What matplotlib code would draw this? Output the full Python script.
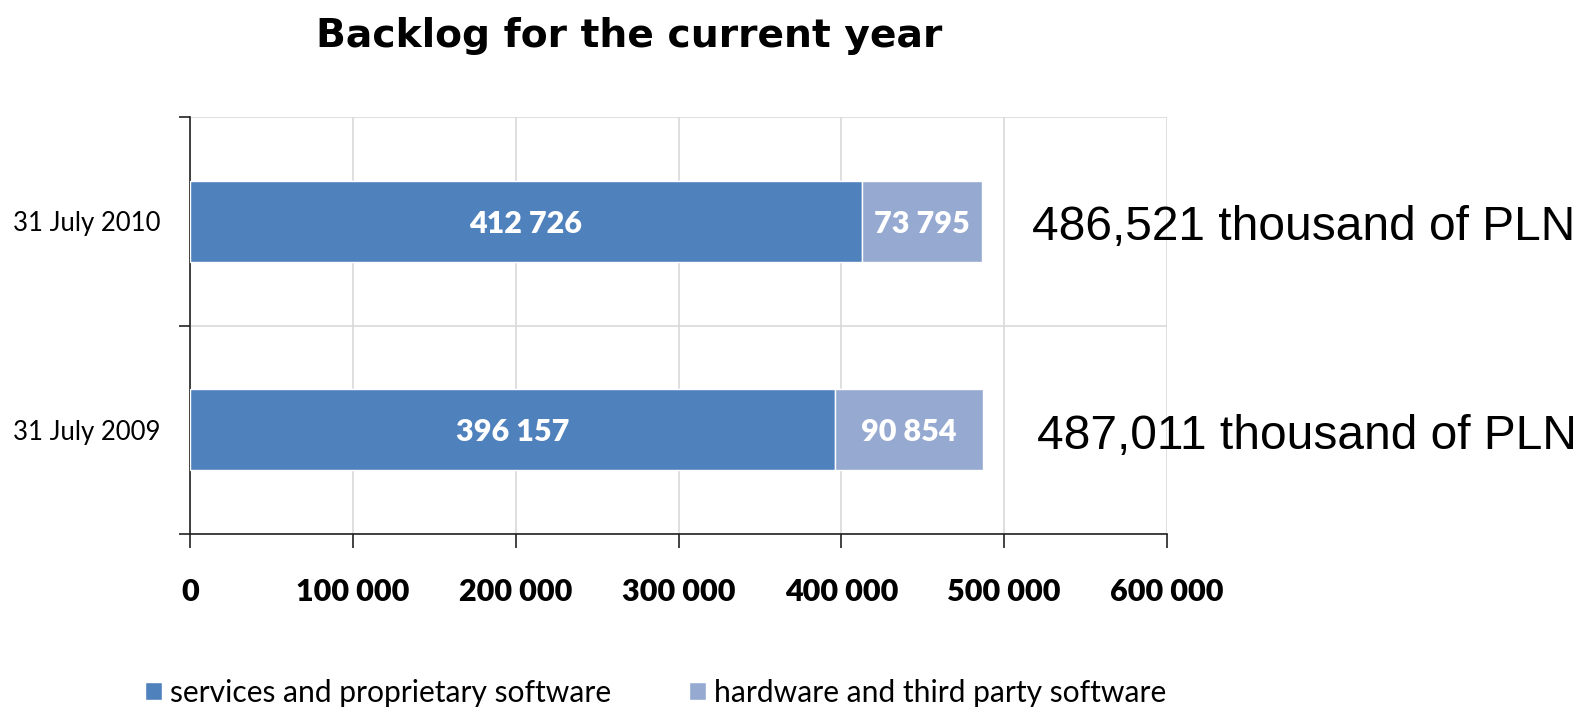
import matplotlib.pyplot as plt
import numpy as np

# data
categories = ["31 July 2009", "31 July 2010"]
services = [396157, 412726]
hardware = [90854, 73795]
series_names = ["services and proprietary software", "hardware and third party software"]
xticks = [0, 100000, 200000, 300000, 400000, 500000, 600000]

dark = "#4F81BD"
light = "#95A9D1"


def spaced(v):
    return f"{v:,}".replace(",", " ")


fig = plt.figure(figsize=(15.8, 7.07), dpi=100)
ax = fig.add_axes([190 / 1580, 173 / 707, 977 / 1580, 417 / 707])

y = np.arange(len(categories))
b1 = ax.barh(y, services, height=0.39, color=dark, edgecolor="white", linewidth=1, label=series_names[0], zorder=3)
b2 = ax.barh(y, hardware, left=services, height=0.39, color=light, edgecolor="white", linewidth=1,
             label=series_names[1], zorder=3)

# values inside the segments
for i in range(len(categories)):
    ax.text(services[i] / 2, y[i], spaced(services[i]), color="white", ha="center", va="center_baseline",
            fontsize=22, fontweight="heavy", family="Lato", zorder=4)
    ax.text(services[i] + hardware[i] / 2, y[i], spaced(hardware[i]), color="white", ha="center",
            va="center_baseline", fontsize=22, fontweight="heavy", family="Lato", zorder=4)

# totals on the right
totals = [s + h for s, h in zip(services, hardware)]
xpos = [0.867, 0.862]
for i, t in enumerate(totals):
    ax.text(xpos[i], y[i] - 0.03, f"{t:,} thousand of PLN", transform=ax.get_yaxis_transform(),
            ha="left", va="center", fontsize=34.5, family="Liberation Sans", clip_on=False, zorder=5)

ax.set_xlim(0, 600000)
ax.set_ylim(-0.5, 1.5)
ax.set_xticks(xticks)
ax.set_xticklabels([spaced(v) for v in xticks], fontsize=22, fontweight="heavy", family="Lato")
ax.tick_params(axis="x", length=10, width=1.2, pad=22, colors="#222222", labelcolor="black")

ax.set_yticks([-0.5, 0.5, 1.5])
ax.set_yticklabels([])
ax.set_yticks(y, minor=True)
ax.set_yticklabels(categories, minor=True, fontsize=18.5, family="Lato")
ax.tick_params(axis="y", which="major", length=8, width=1.2, colors="#222222")
ax.tick_params(axis="y", which="minor", length=0, pad=21)

ax.grid(True, which="major", color="#D9D9D9", linewidth=1.2, zorder=0)
for s in ["top", "right"]:
    ax.spines[s].set_visible(False)
for s in ["left", "bottom"]:
    ax.spines[s].set_color("#222222")
    ax.spines[s].set_linewidth(1.2)

fig.text(629 / 1580, 1 - 36 / 707, "Backlog for the current year", ha="center", va="center",
         fontsize=28.3, fontweight="bold", family="DejaVu Sans")

fig.legend(handles=[b1, b2], loc="center left", bbox_to_anchor=(145 / 1580, 1 - 693 / 707), ncol=2,
           frameon=False, prop={"family": "Lato", "size": 21.6}, handlelength=0.55, handleheight=0.55,
           handletextpad=0.28, columnspacing=2.6, borderpad=0, borderaxespad=0)

fig.savefig("out.png", dpi=100, facecolor="white")
